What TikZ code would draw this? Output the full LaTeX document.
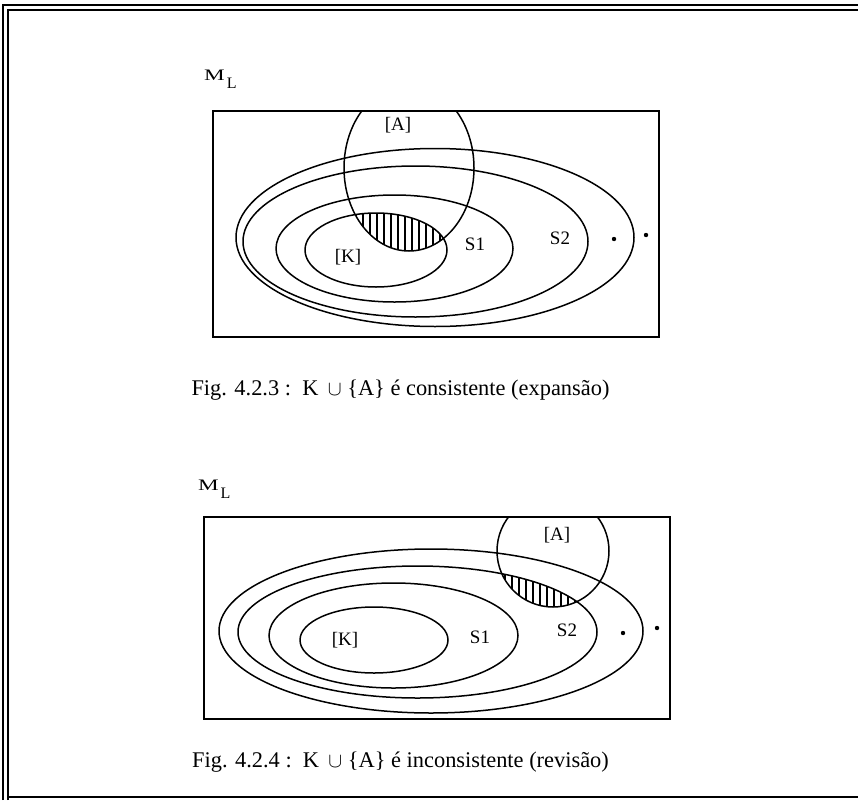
\documentclass[tikz,border=0pt]{standalone}
\usepackage{fontspec}
\setmainfont{Liberation Serif}
\begin{document}
\begin{tikzpicture}[x=1pt,y=-1pt,
  curve/.style={line width=1.5pt},
  box/.style={line width=1.8pt},
  framel/.style={line width=2pt},
  lbl/.style={inner sep=0pt, font=\fontsize{19}{19}\selectfont},
  mlab/.style={inner sep=0pt, anchor=base west, font=\fontsize{16}{16}\selectfont},
  figcaption/.style={inner sep=0pt, anchor=base, font=\fontsize{22.4}{24}\selectfont},
  hatchl/.style={line width=1.2pt},
  dotp/.style={fill=black}]
\useasboundingbox (0,0) rectangle (858,800);
% outer frame
\draw[framel] (3,800) -- (3,5) -- (858,5);
\draw[framel] (8,800) -- (8,10) -- (858,10);
\draw[line width=1.5pt] (8,797) -- (858,797);

% ---------------- figure 1 ----------------
\node[mlab] (m1) at (204,80.7) {\scalebox{1.45}[1]{M}};
\node[mlab] (l1) at (226.7,88.3) {L};
\draw[box] (213,111) rectangle (659,337);
\begin{scope}
  \clip (213,111) rectangle (659,337);
  \draw[curve] (409,168) ellipse [x radius=65pt, y radius=83pt];
\end{scope}
\draw[curve] (435,237.5) ellipse [x radius=199pt, y radius=89pt];
\draw[curve] (415.5,241.5) ellipse [x radius=172.5pt, y radius=75.5pt];
\draw[curve] (394.5,248.5) ellipse [x radius=118.5pt, y radius=53.5pt];
\draw[curve] (376,250) ellipse [x radius=71pt, y radius=37pt];
\begin{scope}
  \clip (409,168) ellipse [x radius=65pt, y radius=83pt];
  \clip (376,250) ellipse [x radius=71pt, y radius=37pt];
  \foreach \x in {300,307,...,460} \draw[hatchl] (\x,200) -- (\x,262);
\end{scope}
\node[lbl] (a1) at (398,125) {[A]};
\node[lbl] (k1) at (348,257) {[K]};
\node[lbl] (s11) at (475,244) {S1};
\node[lbl] (s21) at (560,238) {S2};
\fill[dotp] (614,239) circle [radius=2.2pt];
\fill[dotp] (646,235) circle [radius=2.2pt];
\node[figcaption] (c1) at (400.5,395) {Fig. 4.2.3 :\ \ K\ \,$\cup$ \{A\} é consistente (expansão)};

% ---------------- figure 2 ----------------
\node[mlab] (m2) at (198,490) {\scalebox{1.45}[1]{M}};
\node[mlab] (l2) at (220.5,498) {L};
\draw[box] (204,517) rectangle (670,719);
\begin{scope}
  \clip (204,517) rectangle (670,719);
  \draw[curve] (553,551) circle [radius=56pt];
\end{scope}
\draw[curve] (431,631) ellipse [x radius=212pt, y radius=82pt];
\draw[curve] (417.5,632) ellipse [x radius=179.5pt, y radius=66pt];
\draw[curve] (393.5,635.5) ellipse [x radius=124.5pt, y radius=52.5pt];
\draw[curve] (374,640) ellipse [x radius=74pt, y radius=33pt];
\begin{scope}
  \clip (553,551) circle [radius=56pt];
  \clip (417.5,632) ellipse [x radius=179.5pt, y radius=66pt];
  \foreach \x in {498,505,...,610} \draw[hatchl] (\x,560) -- (\x,612);
\end{scope}
\node[lbl] (a2) at (557,535) {[A]};
\node[lbl] (k2) at (345,640) {[K]};
\node[lbl] (s12) at (480,637) {S1};
\node[lbl] (s22) at (567,630) {S2};
\fill[dotp] (623,633) circle [radius=2.2pt];
\fill[dotp] (657,628) circle [radius=2.2pt];
\node[figcaption] (c2) at (400.5,767) {Fig. 4.2.4 :\ \ K\ \,$\cup$ \{A\} é inconsistente (revisão)};
\end{tikzpicture}
\end{document}
